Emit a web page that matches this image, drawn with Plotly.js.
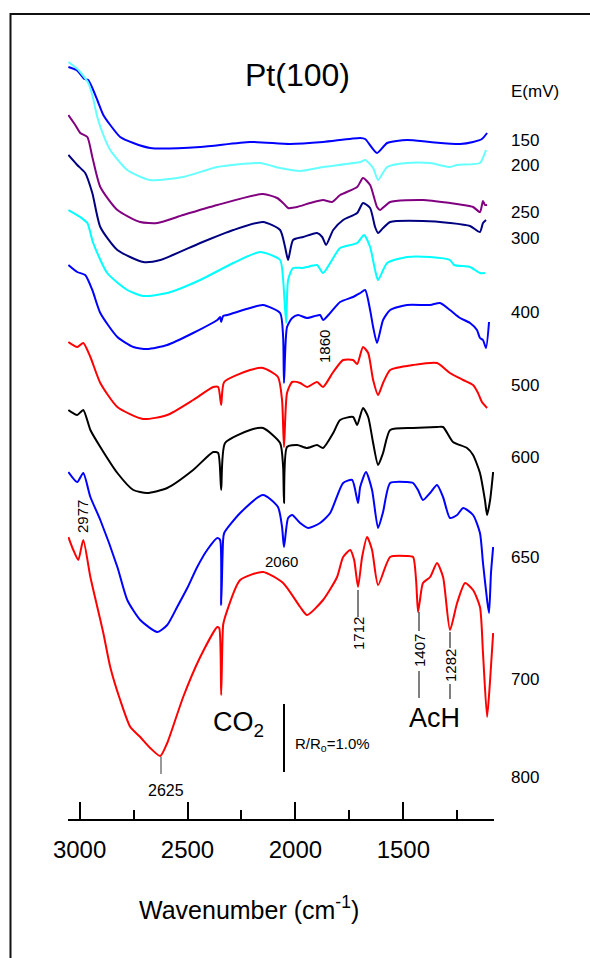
<!DOCTYPE html>
<html><head><meta charset="utf-8">
<script src="https://cdn.plot.ly/plotly-3.0.1.min.js"></script>
<style>html,body{margin:0;padding:0;background:#fff}#chart{width:590px;height:958px}</style>
</head><body><div id="chart"></div>
<script>
// Wavenumbers (cm-1) and stacked intensities (arbitrary units, offset per spectrum; 68 units = 1.0% R/Ro)
const wn1=[3052,3015,2997,2978,2960,2941,2918,2890,2858,2812,2751,2673,2441,2210,2025,1872,1700,1677,1622,1575,1483,1376,1237,1177,1136,1112];
const v1=[752,749,745,740,739,731,719,704,694,682,676,671,672,677,675,677,681,680,666,676,679,677,675,677,680,686];
const wn2=[3052,3015,2997,2960,2941,2918,2890,2858,2779,2673,2520,2362,2164,2071,1978,1872,1700,1677,1640,1617,1575,1483,1376,1284,1251,1145,1126,1117];
const v2=[757,751,747,736,724,702,684,669,649,639,642,652,656,651,648,652,657,659,651,639,652,656,656,652,654,656,664,669];
const wn3=[3052,3020,2997,2964,2941,2904,2825,2719,2640,2520,2362,2150,2085,2057,2034,1992,1932,1872,1830,1793,1714,1687,1654,1622,1608,1561,1409,1284,1223,1177,1145,1131,1122,1112];
const v3=[704,694,686,682,662,632,609,597,596,604,614,625,621,616,611,612,616,619,617,624,632,641,634,612,609,617,619,616,614,612,607,618,614,614];
const wn4=[3052,3011,2974,2941,2904,2825,2705,2626,2441,2288,2150,2071,2048,2034,2011,1964,1900,1876,1858,1825,1779,1714,1687,1654,1631,1617,1594,1561,1409,1284,1191,1145,1131,1117];
const v4=[664,654,646,626,592,569,557,559,576,589,597,589,572,559,579,582,586,582,574,589,599,606,616,611,592,586,591,597,598,596,593,587,596,599];
const wn5=[3052,2997,2964,2937,2872,2779,2705,2594,2441,2288,2164,2071,2057,2043,2034,2011,1969,1946,1900,1872,1839,1793,1714,1682,1654,1631,1617,1575,1483,1376,1284,1265,1191,1145,1122];
const v5=[609,602,596,576,546,529,523,526,539,556,567,559,539,496,539,551,551,552,554,546,556,571,576,584,572,549,539,556,562,562,559,554,552,546,546];
const wn6=[3052,3011,2974,2941,2904,2825,2751,2687,2594,2474,2362,2349,2344,2335,2316,2210,2150,2071,2057,2053,2039,2015,1988,1946,1886,1872,1839,1793,1733,1700,1677,1654,1640,1622,1594,1561,1483,1376,1330,1284,1237,1191,1159,1145,1131,1117,1103];
const v6=[554,547,544,529,506,482,472,470,474,486,499,502,497,503,504,511,514,506,482,436,492,501,504,501,504,499,506,517,522,526,529,509,492,476,499,509,514,514,516,509,501,496,489,481,479,471,497];
const wn7=[3052,3011,2983,2950,2904,2825,2705,2594,2474,2381,2358,2344,2330,2210,2150,2081,2062,2053,2039,2015,1978,1946,1900,1872,1825,1779,1733,1714,1687,1663,1640,1617,1594,1561,1455,1344,1284,1223,1177,1154,1136,1112];
const v7=[477,472,476,462,436,412,400,404,419,432,432,414,437,449,451,442,419,372,426,437,436,432,437,432,447,459,459,455,472,466,439,424,436,449,454,456,446,439,434,426,417,411];
const wn8=[3052,3011,2983,2950,2904,2825,2751,2687,2594,2474,2381,2358,2344,2326,2210,2150,2071,2057,2053,2039,1992,1946,1900,1872,1825,1793,1733,1714,1687,1663,1640,1617,1594,1561,1455,1344,1316,1270,1205,1177,1145,1122,1112,1098,1084];
const v8=[409,404,409,389,372,346,329,326,331,349,367,366,329,376,389,391,376,352,316,372,374,371,374,371,386,399,402,394,411,402,376,354,366,389,391,392,392,377,371,364,346,319,304,319,347];
const wn9=[3052,3011,2983,2950,2904,2825,2779,2719,2640,2594,2548,2501,2455,2409,2362,2349,2344,2335,2330,2256,2150,2081,2062,2053,2034,2015,1978,1941,1886,1839,1779,1737,1710,1700,1673,1645,1617,1594,1561,1483,1455,1432,1409,1376,1344,1316,1284,1251,1223,1177,1145,1131,1112,1103,1094,1084];
const v9=[347,337,346,322,299,252,219,199,187,194,212,231,252,269,281,279,214,279,286,306,324,312,292,272,301,304,296,291,296,306,336,339,316,332,347,329,291,307,336,337,336,329,319,326,334,322,301,304,311,304,286,256,219,206,246,272];
const wn10=[3052,3029,3006,2983,2950,2918,2890,2858,2812,2765,2719,2673,2626,2594,2520,2441,2362,2353,2344,2335,2326,2256,2150,2057,1978,1946,1872,1807,1779,1746,1728,1710,1691,1668,1645,1617,1561,1483,1455,1441,1432,1423,1409,1376,1344,1316,1284,1251,1214,1177,1145,1131,1112,1098,1084];
const v10=[282,269,259,279,242,212,186,152,119,92,82,71,63,76,122,162,192,191,124,194,202,239,247,236,212,204,219,242,262,269,259,232,262,282,269,234,262,263,262,239,207,219,236,242,256,242,189,216,236,229,212,166,102,139,186];

const potentials=["150","200","250","300","400","500","600","650","700","800"];
const colors=["#0000ff","#66ffff","#800080","#000080","#00ffff","#0000ff","#ff0000","#000000","#0000ff","#ff0000"];
const majorTicks=[3000,2500,2000,1500];

const WN=[wn1,wn2,wn3,wn4,wn5,wn6,wn7,wn8,wn9,wn10];
const VV=[v1,v2,v3,v4,v5,v6,v7,v8,v9,v10];
const FONT='Liberation Sans, Arial, sans-serif';

const traces=WN.map((w,i)=>({x:w,y:VV[i],type:'scatter',mode:'lines',
  line:{color:colors[i],width:2,shape:'spline',smoothing:0.6},hoverinfo:'skip',showlegend:false}));

// plot-area geometry in pixels (for label placement)
const L=68,R=494,T=20,B=819;
const px=x=>(x-L)/(R-L), py=y=>(B-y)/(B-T);

function ann(text,x,y,size,opt){
  return Object.assign({text:text,x:px(x),y:py(y),xref:'paper',yref:'paper',showarrow:false,
    xanchor:'center',yanchor:'middle',font:{family:FONT,size:size,color:'#000'}},opt||{});
}
const labelY=[140,165,213,238,312,385,458,557,679,777];
const annotations=[
  ann('Pt(100)',297,75,32),
  ann('E(mV)',509,92,17,{xanchor:'left'}),
  ...potentials.map((p,i)=>ann(p,509,labelY[i],17,{xanchor:'left'})),
  ann('1860',324,347,15,{textangle:-90}),
  ann('2977',82,517,15,{textangle:-90}),
  ann('2060',281,561,15),
  ann('1712',358,634,15,{textangle:-90}),
  ann('1407',419,651,15,{textangle:-90}),
  ann('1282',450,666,15,{textangle:-90}),
  ann('2625',166,790,16),
  ann('CO<sub>2</sub>',238,724,27),
  ann('R/R<sub>o</sub>=1.0%',293,744,15,{xanchor:'left'}),
  ann('AcH',434,718,27),
  ann('Wavenumber (cm<sup>-1</sup>)',249,908,25)
];
function vline(x,y0,y1,color,w){
  return {type:'line',xref:'paper',yref:'paper',x0:px(x),x1:px(x),y0:py(y0),y1:py(y1),
    line:{color:color,width:w}};
}
const shapes=[
  {type:'rect',xref:'paper',yref:'paper',x0:px(10.5),y0:py(14),x1:px(610),y1:py(990),
   line:{color:'#111',width:2},fillcolor:'rgba(0,0,0,0)'},
  vline(284,704,772,'#000',2),
  vline(161,757,774,'#777',1.5),
  vline(358,590,617,'#000',1),
  vline(419,612,631,'#000',1),
  vline(419,671,698,'#000',1),
  vline(450,632,648,'#000',1),
  vline(450,684,699,'#000',1)
];

const layout={
  width:590,height:958,
  margin:{l:L,r:590-R,t:T,b:958-B,pad:0},
  paper_bgcolor:'#fff',plot_bgcolor:'#fff',
  showlegend:false,hovermode:false,
  xaxis:{range:[3053.7,1080],tickmode:'array',tickvals:majorTicks,ticktext:majorTicks.map(String),
    ticks:'inside',ticklen:17,tickwidth:2,tickcolor:'#000',ticklabelstandoff:8,
    minor:{dtick:250,tick0:0,ticks:'inside',ticklen:9,tickwidth:2,tickcolor:'#000'},
    showline:true,linecolor:'#000',linewidth:2,showgrid:false,zeroline:false,mirror:false,
    tickfont:{family:FONT,size:24,color:'#000'},fixedrange:true},
  yaxis:{range:[0,B-T],visible:false,fixedrange:true},
  annotations:annotations,shapes:shapes
};
Plotly.newPlot('chart',traces,layout,{staticPlot:true,displayModeBar:false});
</script></body></html>
